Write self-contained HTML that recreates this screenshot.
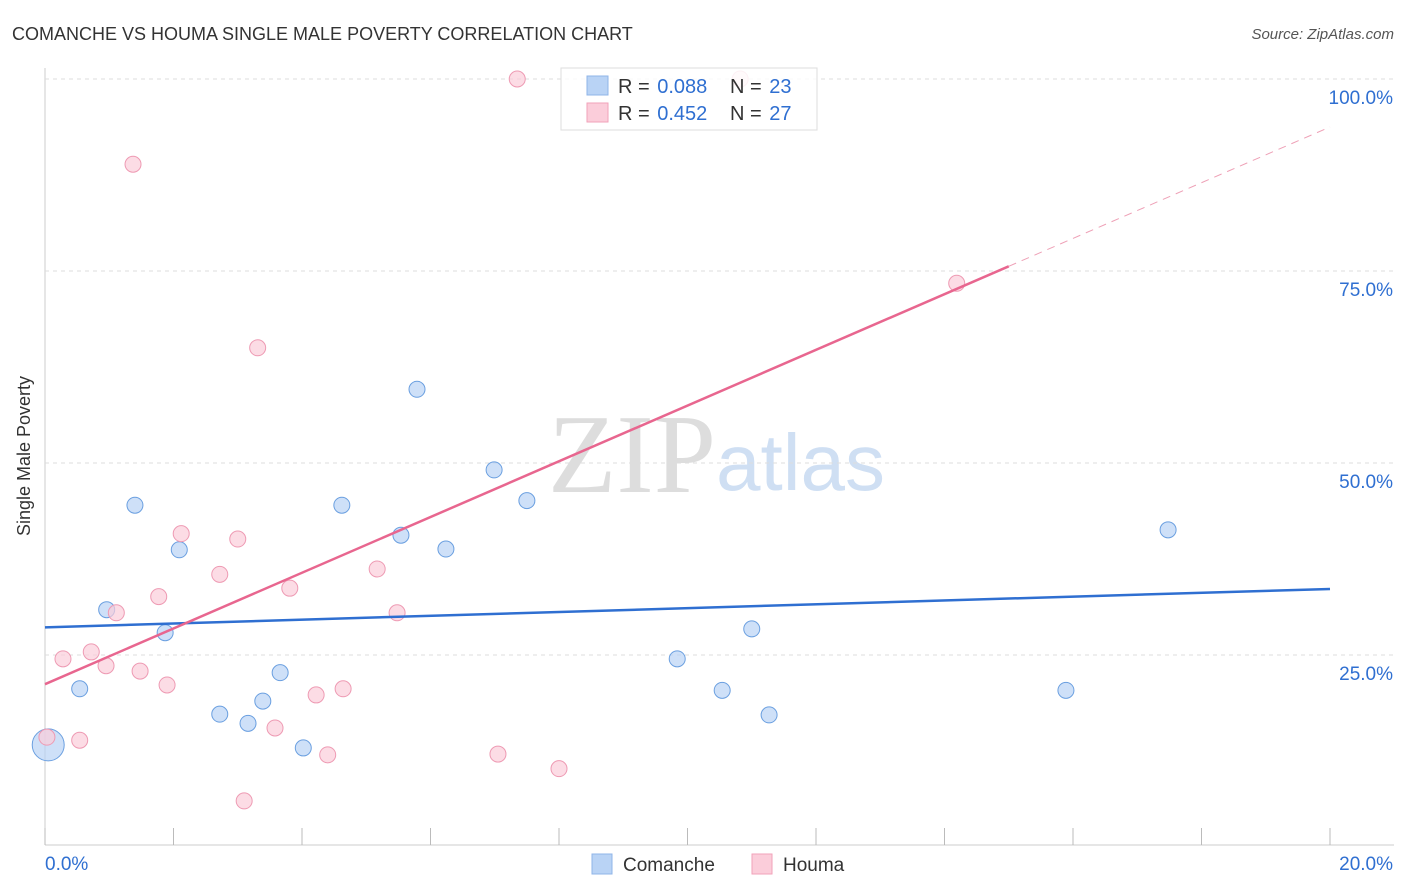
<!DOCTYPE html>
<html><head><meta charset="utf-8"><style>
body{margin:0;background:#fff;font-family:"Liberation Sans",sans-serif;}
svg{display:block}
</style></head><body>
<svg id="chart" width="1406" height="892">
<text x="12" y="40" font-size="18" fill="#333">COMANCHE VS HOUMA SINGLE MALE POVERTY CORRELATION CHART</text>
<text x="1394" y="39" font-size="15" fill="#555" font-style="italic" text-anchor="end">Source: ZipAtlas.com</text>
<text x="30" y="456" font-size="18" fill="#333" text-anchor="middle" transform="rotate(-90 30 456)">Single Male Poverty</text>
<text x="716" y="492" font-size="112" fill="#ddd" text-anchor="end" font-family="Liberation Serif,serif">ZIP</text>
<text x="716" y="490" font-size="80" fill="#cfdff3">atlas</text>
<g id="grid"></g><g id="marks"></g>
<g>
<rect x="561" y="68" width="256" height="62" fill="#fff" fill-opacity="0.85" stroke="#ddd"/>
<rect x="587" y="76" width="21" height="19" fill="#b9d3f5" stroke="#8fb4e8"/>
<rect x="587" y="103" width="21" height="19" fill="#fbcdda" stroke="#f2a2b9"/>
<text x="618" y="93" font-size="20" fill="#333">R = <tspan fill="#2f6fd1" dx="2">0.088</tspan></text>
<text x="730" y="93" font-size="20" fill="#333">N = <tspan fill="#2f6fd1" dx="2">23</tspan></text>
<text x="618" y="120" font-size="20" fill="#333">R = <tspan fill="#2f6fd1" dx="2">0.452</tspan></text>
<text x="730" y="120" font-size="20" fill="#333">N = <tspan fill="#2f6fd1" dx="2">27</tspan></text>
</g>
<g>
<rect x="592" y="854" width="20" height="20" fill="#b9d3f5" stroke="#8fb4e8"/>
<text x="623" y="871" font-size="19" fill="#333">Comanche</text>
<rect x="752" y="854" width="20" height="20" fill="#fbcdda" stroke="#f2a2b9"/>
<text x="783" y="871" font-size="19" fill="#333">Houma</text>
</g>
</svg>
<script>
const xTicks=[0,2,4,6,8,10,12,14,16,18,20];
const yTicks=[25,50,75,100];
const comancheX=[0.05,0.54,1.40,0.96,1.87,2.09,2.72,3.16,3.39,3.66,4.02,4.62,5.54,5.79,6.24,6.99,7.50,9.84,10.54,11.00,11.27,15.89,17.48];
const comancheY=[13.3,20.6,44.5,30.9,27.9,38.7,17.3,16.1,19.0,22.7,12.9,44.5,40.6,59.6,38.8,49.1,45.1,24.5,20.4,28.4,17.2,20.4,41.3];
const houmaX=[0.03,0.28,0.54,0.72,0.95,1.11,1.48,1.77,1.90,2.12,1.37,2.72,3.00,3.10,3.31,3.58,3.81,4.22,4.40,4.64,5.17,5.48,7.05,7.35,8.00,14.19,10.82];
const houmaY=[14.3,24.5,13.9,25.4,23.6,30.5,22.9,32.6,21.1,40.8,88.9,35.5,40.1,6.0,65.0,15.5,33.7,19.8,12.0,20.6,36.2,30.5,12.1,100,10.2,73.4,100];
const comancheTrend=[28.6,33.6];
const houmaTrend=[21.2,93.75];
const houmaSolidEnd=15.0;
const X=v=>45+v/20*1285, Y=v=>847-v/25*192;
const NS='http://www.w3.org/2000/svg';
function mk(t,a,p){const e=document.createElementNS(NS,t);for(const k in a)e.setAttribute(k,a[k]);p.appendChild(e);return e;}
const g=document.getElementById('grid'), m=document.getElementById('marks');
mk('line',{x1:45,y1:68,x2:45,y2:845,stroke:'#ccc'},g);
mk('line',{x1:45,y1:845,x2:1394,y2:845,stroke:'#ccc'},g);
yTicks.forEach(t=>{
 const l=mk('line',{x1:45,y1:Y(t),x2:1394,y2:Y(t),stroke:'#ddd','stroke-dasharray':'4,4'},g);
 
 
 const tx=mk('text',{x:1393,y:Y(t)+25,'font-size':19,fill:'#2f6fd1','text-anchor':'end'},g);tx.textContent=t.toFixed(1)+'%';
 
 
});
xTicks.forEach(t=>{
 const l=mk('line',{x1:X(t),y1:828,x2:X(t),y2:845,stroke:'#bbb'},g);
 
 
});
[[0,'start',45],[20,'end',1393]].forEach(([t,a,x])=>{const tx=mk('text',{x:x,y:870,'font-size':19,fill:'#2f6fd1','text-anchor':a},g);tx.textContent=t.toFixed(1)+'%';
 
 });
comancheX.forEach((v,i)=>{const c=mk('circle',{cx:X(v),cy:Y(comancheY[i]),r:i==0?16:8,fill:'rgba(185,211,245,0.7)',stroke:'#6a9fe0','stroke-width':1},m);
 
 });
houmaX.forEach((v,i)=>{const c=mk('circle',{cx:X(v),cy:Y(houmaY[i]),r:8,fill:'rgba(251,205,218,0.7)',stroke:'#ee9ab3','stroke-width':1},m);
 
 });
const bl=mk('line',{x1:X(0),y1:Y(comancheTrend[0]),x2:X(20),y2:Y(comancheTrend[1]),stroke:'#2f6fd1','stroke-width':2.5},m);


const hy=x=>houmaTrend[0]+(houmaTrend[1]-houmaTrend[0])*x/20;
const pl=mk('line',{x1:X(0),y1:Y(hy(0)),x2:X(houmaSolidEnd),y2:Y(hy(houmaSolidEnd)),stroke:'#e8668f','stroke-width':2.5},m);


const pd=mk('line',{x1:X(houmaSolidEnd),y1:Y(hy(houmaSolidEnd)),x2:X(20),y2:Y(hy(20)),stroke:'#eea0b6','stroke-width':1,'stroke-dasharray':'8,6'},m);


</script>
</body></html>
